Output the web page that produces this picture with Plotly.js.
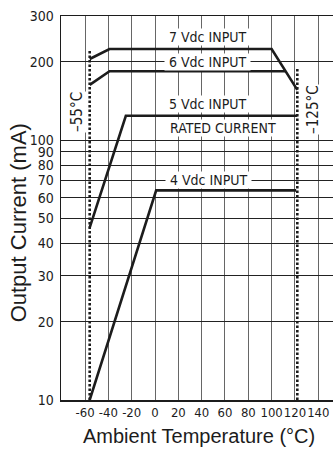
<!DOCTYPE html>
<html><head><meta charset="utf-8">
<script src="https://cdn.plot.ly/plotly-3.0.1.min.js"></script>
<style>html,body{margin:0;padding:0;background:#fff;}#chart{width:333px;height:449px;}</style>
</head><body><div id="chart"></div>
<script>
// Curves: ambient temperature (°C) vs output current (mA)
const temp7 = [-56, -39, 100, 122];
const curr7 = [205, 224, 224, 156];
const temp6 = [-56, -39, 112];
const curr6 = [163, 184, 184];
const temp5 = [-56, -25, 122];
const curr5 = [46, 124, 124];
const temp4 = [-56, 1, 121];
const curr4 = [10, 64, 64];
// Temperature limit markers (dotted verticals)
const limitTemps = [-56, 122];
const limitTops = [222, 190];
const limitBottom = 10;
// Axes ticks
const xTicks = [-60, -40, -20, 0, 20, 40, 60, 80, 100, 120, 140];
const xTickText = ["-60", "-40", "-20", "0", "20", "40", "60", "80", "100", "120", "140"];
const yTicks = [10, 20, 30, 40, 50, 60, 70, 80, 90, 100, 200, 300];
const yTickText = ["10", "20", "30", "40", "50", "60", "70", "80", "90", "100", "200", "300"];
// Curve labels
const curveLabels = ["7 Vdc INPUT", "6 Vdc INPUT", "5 Vdc INPUT", "RATED CURRENT", "4 Vdc INPUT"];
const labelTemps = [45, 45, 45, 58, 46];
const labelCurr = [250, 200, 137, 111, 70];
const limitLabels = ["\u201355\u00b0C", "\u2013125\u00b0C"];
const limitLabelTemps = [-67, 135];
const limitLabelCurr = [128, 131];
const xTitle = "Ambient Temperature (\u00b0C)";
const yTitle = "Output Current (mA)";

const NARROW = "'DejaVu Sans Condensed', 'Liberation Sans Narrow', sans-serif";
const REG = "'Liberation Sans', Arial, sans-serif";
const INK = "#1c1c1c";

const curveLine = {color: INK, width: 2.6};
const traces = [
  {x: temp7, y: curr7, mode: "lines", line: curveLine, hoverinfo: "skip"},
  {x: temp6, y: curr6, mode: "lines", line: curveLine, hoverinfo: "skip"},
  {x: temp5, y: curr5, mode: "lines", line: curveLine, hoverinfo: "skip"},
  {x: temp4, y: curr4, mode: "lines", line: curveLine, hoverinfo: "skip"}
];
limitTemps.forEach((t, i) => {
  traces.push({x: [t, t], y: [limitBottom, limitTops[i]], mode: "lines",
    line: {color: INK, width: 2.6, dash: "2.5px,2px"}, hoverinfo: "skip"});
});

const annotations = [];
curveLabels.forEach((s, i) => {
  annotations.push({x: labelTemps[i], y: Math.log10(labelCurr[i]), xref: "x", yref: "y",
    text: "\u00a0" + s + "\u00a0", showarrow: false, bgcolor: "#fff", borderpad: 0,
    font: {family: NARROW, size: 14, color: INK}});
});
limitLabels.forEach((s, i) => {
  annotations.push({x: limitLabelTemps[i], y: Math.log10(limitLabelCurr[i]), xref: "x", yref: "y",
    text: s, textangle: -90, showarrow: false, bgcolor: "#fff", borderpad: 0,
    font: {family: NARROW, size: 15, color: INK}});
});
annotations.push({x: 0.507, y: -0.094, xref: "paper", yref: "paper", text: xTitle,
  showarrow: false, xanchor: "center", yanchor: "middle",
  font: {family: REG, size: 20, color: INK}});
annotations.push({x: 0, y: 0.46, xref: "paper", yref: "paper", text: yTitle, xshift: -43,
  textangle: -90, showarrow: false, xanchor: "center", yanchor: "middle",
  font: {family: REG, size: 22, color: INK}});

const layout = {
  width: 333, height: 449,
  margin: {l: 61, r: 0, t: 16, b: 49, pad: 0},
  paper_bgcolor: "#fff", plot_bgcolor: "#fff",
  showlegend: false,
  xaxis: {range: [-80.6, 152.6], tickmode: "array", tickvals: xTicks, ticktext: xTickText,
    tickangle: 0,
    showgrid: true, gridcolor: "#666", gridwidth: 1, zeroline: false,
    showline: true, linecolor: INK, linewidth: 1.5, mirror: true, ticks: "",
    tickfont: {family: NARROW, size: 13, color: INK}, fixedrange: true},
  yaxis: {type: "log", range: [1, Math.log10(300)], tickmode: "array", tickvals: yTicks, ticktext: yTickText,
    showgrid: true, gridcolor: "#222", gridwidth: 1, zeroline: false,
    showline: true, linecolor: INK, linewidth: 1.5, ticks: "", ticklabelstandoff: 3,
    tickfont: {family: NARROW, size: 14, color: INK}, fixedrange: true},
  annotations: annotations
};
Plotly.newPlot("chart", traces, layout, {displayModeBar: false, staticPlot: true});
</script>
</body></html>
